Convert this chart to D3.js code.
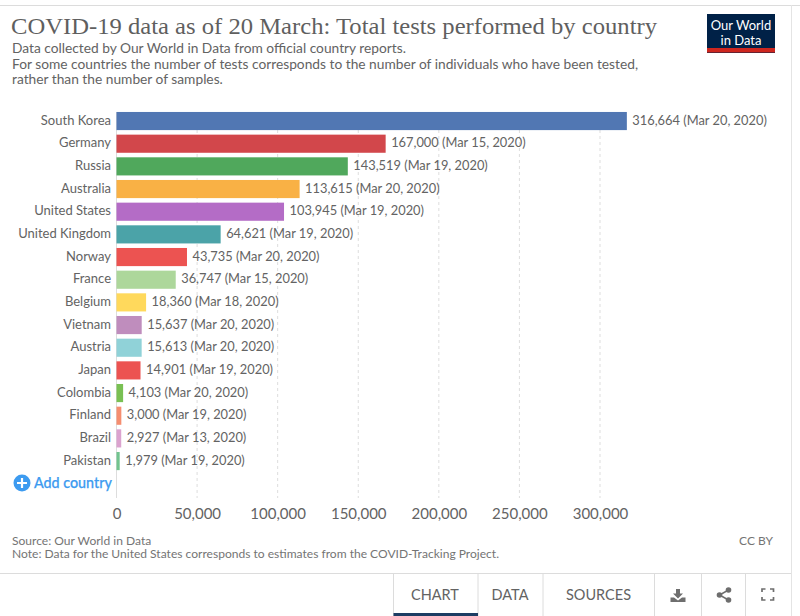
<!DOCTYPE html>
<html><head><meta charset="utf-8">
<script src="https://cdnjs.cloudflare.com/ajax/libs/d3/7.8.5/d3.min.js"></script>
<style>
html,body{margin:0;padding:0;background:#fff;overflow:hidden}
text{font-family:Lato,sans-serif}
</style></head><body><svg id="c" width="800" height="616"></svg>
<script>
const countries=["South Korea","Germany","Russia","Australia","United States","United Kingdom","Norway","France","Belgium","Vietnam","Austria","Japan","Colombia","Finland","Brazil","Pakistan"];
const tests=[316664,167000,143519,113615,103945,64621,43735,36747,18360,15637,15613,14901,4103,3000,2927,1979];
const dates=["Mar 20, 2020","Mar 15, 2020","Mar 19, 2020","Mar 20, 2020","Mar 19, 2020","Mar 19, 2020","Mar 20, 2020","Mar 15, 2020","Mar 18, 2020","Mar 20, 2020","Mar 20, 2020","Mar 19, 2020","Mar 20, 2020","Mar 19, 2020","Mar 13, 2020","Mar 19, 2020"];
const colors=["#5177b3","#d2474b","#50a85c","#f9b145","#b46cc6","#4ba3a8","#ec5351","#add79b","#ffd95c","#bf8dbd","#90d2d8","#ec5351","#79c053","#f58e70","#dba3cf","#72c48f"];
const xTicks=[0,50000,100000,150000,200000,250000,300000];
const subtitle=["Data collected by Our World in Data from official country reports.","For some countries the number of tests corresponds to the number of individuals who have been tested,","rather than the number of samples."];
const footer=["Source: Our World in Data","Note: Data for the United States corresponds to estimates from the COVID-Tracking Project."];
const tabs=["CHART","DATA","SOURCES"];

const svg=d3.select("#c");
const grey="#636363";
// page frame
svg.append("line").attr("x1",0).attr("x2",800).attr("y1",5.5).attr("y2",5.5).attr("stroke","#dcdcdc");
svg.append("line").attr("x1",791.5).attr("x2",791.5).attr("y1",5).attr("y2",616).attr("stroke","#e4e4e4");
// header
svg.append("text").attr("x",11).attr("y",34).attr("fill","#5f5f5f").attr("font-size",23.5)
  .style("font-family","'Liberation Serif',serif").attr("textLength",646).attr("lengthAdjust","spacingAndGlyphs")
  .text("COVID-19 data as of 20 March: Total tests performed by country");
svg.append("g").selectAll("text").data(subtitle).join("text").attr("x",12)
  .attr("y",(d,i)=>53+i*15.5).attr("font-size",13.75).attr("fill",grey).text(d=>d);
// logo
svg.append("rect").attr("x",707).attr("y",14).attr("width",68).attr("height",39).attr("fill","#002147");
svg.append("rect").attr("x",707).attr("y",48).attr("width",68).attr("height",4.5).attr("fill","#ce261e");
svg.append("g").selectAll("text").data(["Our World","in Data"]).join("text").attr("x",741).attr("y",(d,i)=>30+i*14.5)
  .attr("text-anchor","middle").attr("font-size",13).attr("fill","#fff").text(d=>d);
// chart
const x=d3.scaleLinear().domain([0,300000]).range([116.5,600]);
const y=d3.scaleBand().domain(countries).range([109.7,472.4]).paddingInner(0.2).paddingOuter(0.1);
const axis=d3.axisBottom(x).tickValues(xTicks).tickFormat(d3.format(",")).tickSize(0);
const ag=svg.append("g").attr("transform","translate(0,513)").call(axis);
ag.select(".domain").remove();
ag.selectAll("text").attr("font-size",15).attr("fill",grey).attr("dy",0).attr("y",6).style("font-family","Lato");
svg.append("g").selectAll("line").data(xTicks.slice(1)).join("line").attr("x1",d=>x(d)).attr("x2",d=>x(d))
  .attr("y1",112).attr("y2",498).attr("stroke","#dddddd").attr("stroke-dasharray","3,3");
svg.append("line").attr("x1",x(0)).attr("x2",x(0)).attr("y1",112).attr("y2",498).attr("stroke","#dddddd");
const bw=y.bandwidth();
const rows=svg.append("g").selectAll("g").data(countries).join("g");
rows.append("rect").attr("x",x(0)).attr("y",d=>y(d)).attr("height",bw)
  .attr("width",(d,i)=>x(tests[i])-x(0)).attr("fill",(d,i)=>colors[i]);
rows.append("text").attr("x",111).attr("y",d=>y(d)+bw/2+3.7).attr("text-anchor","end").attr("font-size",13).attr("fill",grey).text(d=>d);
const fmt=d3.format(",");
rows.append("text").attr("x",(d,i)=>x(tests[i])+5.5).attr("y",d=>y(d)+bw/2+3.7).attr("font-size",12.85).attr("fill",grey)
  .text((d,i)=>fmt(tests[i])+" ("+dates[i]+")");
// add country
svg.append("circle").attr("cx",22).attr("cy",483).attr("r",8.5).attr("fill","#3d9bf0");
svg.append("path").attr("d","M22 478V488M17 483H27").attr("stroke","#fff").attr("stroke-width",2.2);
svg.append("text").attr("x",34).attr("y",488).attr("font-size",14.3).attr("font-weight",500).attr("fill","#3d9bf0")
  .attr("stroke","#3d9bf0").attr("stroke-width",0.25).text("Add country");
// footer
svg.append("g").selectAll("text").data(footer).join("text").attr("x",12).attr("y",(d,i)=>i?558:545)
  .attr("font-size",12.05).attr("fill","#747474").text(d=>d);
svg.append("text").attr("x",773).attr("y",545).attr("text-anchor","end").attr("font-size",12).attr("fill","#747474").text("CC BY");
// tabs
svg.append("line").attr("x1",0).attr("x2",791).attr("y1",573.5).attr("y2",573.5).attr("stroke","#dcdcdc");
[393.5,478,543,654.5,701.5,745.5].forEach(v=>svg.append("line").attr("x1",v).attr("x2",v).attr("y1",574).attr("y2",616).attr("stroke","#dcdcdc"));
svg.append("g").selectAll("text").data(tabs).join("text").attr("x",(d,i)=>[435,510,598.5][i]).attr("y",600)
  .attr("text-anchor","middle").attr("font-size",14.5).attr("fill",grey).text(d=>d);
svg.append("rect").attr("x",393.5).attr("y",613).attr("width",84.5).attr("height",3).attr("fill","#1d3d63");
// icons
svg.append("path").attr("d","M676 589h4v4.5h3l-5 5-5-5h3zM670.5 597.5h3.5l4 3 4-3h3.5v4.5h-15z").attr("fill","#6e6e6e");
svg.append("g").attr("fill","#6e6e6e").selectAll("circle").data([[728.5,590,2.8],[719.5,595,2.8],[728.5,600,2.8]]).join("circle")
  .attr("cx",d=>d[0]).attr("cy",d=>d[1]).attr("r",d=>d[2]);
svg.append("path").attr("d","M728.5 590L719.5 595L728.5 600").attr("fill","none").attr("stroke","#6e6e6e").attr("stroke-width",1.5);
svg.append("path").attr("d","M762 592v-3h3.5M770 589h3.5v3M773.5 597v3h-3.5M765.5 600h-3.5v-3").attr("fill","none").attr("stroke","#6e6e6e").attr("stroke-width",1.7);
</script></body></html>
